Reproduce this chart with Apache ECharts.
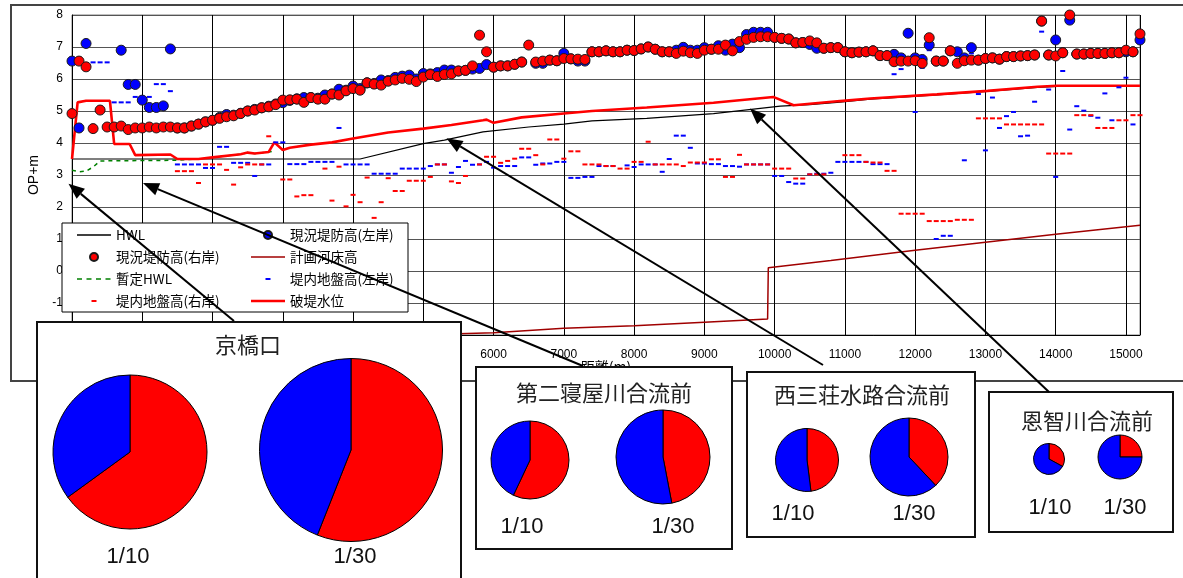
<!DOCTYPE html>
<html lang="ja">
<head>
<meta charset="utf-8">
<title>破堤水位・堤防高 縦断図</title>
<script src="https://cdn.jsdelivr.net/npm/echarts@6/dist/echarts.min.js"></script>
<style>
  html, body { margin: 0; padding: 0; background: #fff; }
  #chart { width: 1183px; height: 578px; }
</style>
</head>
<body>
<div id="chart"></div>
<script>
// ---- Longitudinal profile: stations every 100 m, 0 – 15200 m ----
const distances = Array.from({ length: 153 }, (_, i) => i * 100);

// 現況堤防高(右岸)
const dikeRight = [
  4.92, 6.56, 6.38, 4.45, 5.03, 4.50, 4.50, 4.53, 4.42, 4.47,
  4.47, 4.50, 4.47, 4.50, 4.50, 4.47, 4.47, 4.53, 4.59, 4.66,
  4.71, 4.77, 4.82, 4.85, 4.92, 5.00, 5.03, 5.10, 5.13, 5.20,
  5.34, 5.35, 5.37, 5.27, 5.42, 5.37, 5.37, 5.53, 5.50, 5.63,
  5.70, 5.65, 5.88, 5.84, 5.81, 5.93, 5.97, 6.02, 5.99, 5.92,
  6.06, 6.14, 6.08, 6.14, 6.16, 6.25, 6.27, 6.41, 7.37, 6.85,
  6.37, 6.41, 6.41, 6.46, 6.53, 7.06, 6.53, 6.56, 6.59, 6.57,
  6.64, 6.63, 6.62, 6.61, 6.85, 6.85, 6.88, 6.85, 6.85, 6.90,
  6.89, 6.94, 7.00, 6.93, 6.85, 6.85, 6.80, 6.87, 6.82, 6.80,
  6.90, 6.93, 6.93, 7.06, 6.88, 7.17, 7.24, 7.30, 7.32, 7.32,
  7.30, 7.27, 7.25, 7.13, 7.14, 7.19, 7.13, 6.96, 6.98, 6.98,
  6.85, 6.82, 6.84, 6.85, 6.88, 6.73, 6.73, 6.54, 6.56, 6.56,
  6.57, 6.49, 7.29, 6.56, 6.56, 6.88, 6.49, 6.57, 6.59, 6.59,
  6.64, 6.66, 6.62, 6.70, 6.70, 6.72, 6.73, 6.75, 7.81, 6.75,
  6.72, 6.82, 8.00, 6.78, 6.78, 6.80, 6.80, 6.80, 6.82, 6.82,
  6.90, 6.85, 7.41
];

// 現況堤防高(左岸)
const dikeLeft = [
  6.56, 4.47, 7.11, null, null, null, null, 6.90, 5.83, 5.83,
  5.34, 5.11, 5.11, 5.16, 6.94, 4.47, 4.47, 4.53, 4.59, 4.66,
  4.71, 4.80, 4.89, 4.87, 4.93, 5.00, 5.05, 5.10, 5.15, 5.22,
  5.26, 5.33, 5.38, 5.42, 5.42, 5.40, 5.50, 5.53, 5.68, 5.65,
  5.78, 5.70, 5.88, 5.86, 5.97, 5.95, 6.05, 6.09, 6.12, 6.00,
  6.17, 6.16, 6.20, 6.28, 6.28, 6.25, 6.27, 6.31, 6.33, 6.45,
  6.37, 6.41, 6.41, 6.46, 6.53, null, 6.49, 6.49, 6.59, 6.57,
  6.80, 6.63, 6.56, 6.56, 6.85, 6.85, 6.88, 6.85, 6.85, 6.90,
  6.89, 6.94, 7.00, 6.93, 6.85, 6.85, 6.90, 6.99, 6.90, 6.90,
  6.98, 6.93, 7.04, 6.90, 7.09, 6.98, 7.39, 7.46, 7.46, 7.46,
  7.30, 7.27, 7.25, 7.13, 7.14, 7.08, 6.96, 6.96, 6.98, 6.98,
  6.85, 6.82, 6.84, 6.85, 6.88, 6.73, 6.73, 6.77, 6.66, 7.43,
  6.66, 6.61, 7.06, 6.56, 6.56, 6.88, 6.85, 6.66, 6.98, 6.59,
  6.64, 6.66, 6.62, 6.70, 6.70, 6.72, 6.73, 6.75, 7.81, 6.75,
  7.22, 6.82, 7.84, 6.78, 6.78, 6.80, 6.80, 6.80, 6.82, 6.82,
  6.85, 6.85, 7.22
];

// 堤内地盤高(左岸)
const groundLeft = [
  null, null, null, 6.52, 6.52, 6.52, 5.27, 5.27, 5.27, 5.44,
  5.44, 5.44, 5.84, 5.84, 5.62, 3.33, 3.33, 3.33, 3.33, 3.22,
  3.22, 3.88, 3.88, 3.38, 3.38, 3.38, 2.97, 3.33, 3.33, 4.02,
  4.02, 3.34, 3.34, 3.34, 3.41, 3.41, 3.41, 3.41, 4.47, 3.33,
  3.33, 3.33, 3.33, 3.04, 3.04, 3.04, 3.04, 3.20, 3.20, 3.20,
  3.20, 3.28, 3.33, 3.33, 3.07, 3.25, 3.44, 3.32, 3.33, 3.41,
  3.23, 3.28, 3.28, 3.28, 3.55, 3.55, 3.32, 3.36, 3.36, 3.41,
  3.41, 2.91, 2.91, 2.94, 2.94, 3.28, 3.28, 3.28, null, 3.30,
  3.25, 3.33, 3.33, 3.33, 3.10, 3.50, 4.23, 4.23, 3.85, 3.36,
  3.36, 3.34, 3.34, 3.28, 3.28, 3.26, 3.33, 3.33, 3.33, 3.33,
  2.97, 2.97, 2.78, 2.73, 2.73, 3.02, 3.04, 3.04, 3.07, 3.41,
  3.41, 3.41, 3.41, 3.41, 3.34, 3.34, 3.34, 6.15, 6.31, null,
  4.97, 6.35, 6.90, 1.00, 1.10, 1.10, 6.54, 3.46, 6.80, 5.53,
  3.77, 5.42, 4.47, 4.84, 4.97, 4.21, 4.23, 5.29, 7.48, 5.67,
  2.94, 6.25, 4.42, 5.15, 5.01, 4.85, 4.79, 5.55, 4.71, 5.74,
  6.04, 4.58, null
];

// 堤内地盤高(右岸)
const groundRight = [
  null, null, null, null, null, null, null, null, null, null,
  null, null, null, null, null, 3.12, 3.12, 3.12, 2.75, 3.33,
  3.33, 3.33, 3.16, 2.70, 3.24, 3.33, 3.33, 3.33, 4.21, null,
  2.86, 2.86, 2.33, 2.37, 2.37, null, 3.20, 2.20, 3.26, 2.02,
  2.38, 2.15, 2.92, 1.66, 2.15, 2.90, 2.50, 2.50, 2.82, 2.82,
  2.82, 2.94, 3.33, 3.33, 2.80, 2.75, 2.97, null, 3.33, 3.57,
  3.57, 3.38, 3.44, 3.51, 3.82, 3.82, 3.62, 3.33, 4.11, 4.11,
  3.51, 3.74, 3.74, 3.33, 3.33, 3.33, 3.28, 3.28, 3.20, 3.20,
  3.41, 3.41, 4.04, 3.33, 3.33, 3.33, 3.33, 3.28, 3.39, 3.39,
  3.39, 3.49, 3.49, 2.94, 2.94, 3.63, 3.33, 3.33, 3.33, 3.33,
  3.20, 3.20, 3.20, 2.89, 2.89, 3.02, 3.02, 3.02, null, null,
  3.62, 3.62, 3.62, 3.41, 3.39, 3.39, 3.13, 3.13, 1.79, 1.79,
  1.79, 1.79, 1.56, 1.56, 1.56, 1.56, 1.60, 1.60, 1.60, 4.77,
  4.77, 4.77, 4.77, 4.58, 4.58, 4.58, 4.58, 4.58, 4.58, 3.67,
  3.67, 3.67, 3.67, 4.87, 4.87, 4.87, 4.47, 4.47, 4.47, 4.71,
  4.71, 4.87, 4.87
];

// HWL (breakpoints)
const hwlDist  = [0, 4100, 5000, 5300, 5850, 6500, 7000, 7400, 8180, 9130, 10080, 10500, 10930, 11360, 12310, 13030, 13740, 14020, 15200];
const hwlLevel = [3.50, 3.50, 3.98, 4.09, 4.35, 4.50, 4.59, 4.69, 4.77, 4.92, 5.15, 5.20, 5.28, 5.37, 5.50, 5.61, 5.74, 5.77, 5.77];

// 暫定HWL
const provDist  = [0, 100, 200, 300, 400, 1500, 1800, 2000, 2400, 2500, 2600, 2800, 2860];
const provLevel = [3.15, 3.10, 3.12, 3.25, 3.44, 3.46, 3.50, 3.55, 3.65, 3.70, 3.67, 3.72, 3.74];

// 破堤水位
const breachDist  = [0, 80, 200, 540, 600, 820, 900, 1400, 1500, 1800, 2000, 2400, 2500, 2600, 2800, 2880, 3000, 3100, 3400, 3700, 4000, 4500, 5000, 5400, 5850, 5900, 6000, 6400, 7000, 7400, 8180, 9130, 9980, 10270, 10930, 11360, 12310, 13030, 13740, 14020, 15200];
const breachLevel = [3.50, 5.27, 5.32, 5.32, 3.97, 3.97, 3.62, 3.64, 3.50, 3.50, 3.55, 3.65, 3.70, 3.67, 3.72, 4.02, 3.78, 3.85, 3.95, 4.02, 4.14, 4.33, 4.45, 4.56, 4.71, 4.73, 4.63, 4.80, 4.92, 5.00, 5.11, 5.26, 5.44, 5.18, 5.31, 5.39, 5.52, 5.63, 5.76, 5.79, 5.79];

// 計画河床高
const bedDist  = [5000, 5500, 6000, 7000, 8000, 9000, 9900, 9910, 10800, 12000, 13000, 14000, 15200];
const bedLevel = [-2.00, -1.96, -1.93, -1.79, -1.71, -1.60, -1.50, 0.10, 0.33, 0.65, 0.90, 1.15, 1.43];

// Axis ticks
const yTicks = { min: -2, max: 8, step: 1 };
const xTicks = { min: 0, max: 15200, step: 1000 };

// Flood share at each confluence (red = 右岸, blue = 左岸), in %
const pieSites = ['京橋口', '第二寝屋川合流前', '西三荘水路合流前', '恩智川合流前'];
const pieCases = ['1/10', '1/30'];
const shareRight = [[65, 56], [57, 47], [48, 38], [33, 25]];
const shareLeft  = [[35, 44], [43, 53], [52, 62], [67, 75]];

// Arrow targets on the profile: [distance (m), level (OP+m)]
const arrowTargets = [[-50, 2.73], [1010, 2.75], [5330, 4.15], [9650, 5.08]];

// ---- Layout ----
const FONT = '"Liberation Sans", Arial, sans-serif';
const JP = '"Noto Sans CJK JP", "Noto Sans CJK SC", sans-serif';
const RED = '#ff0000', BLUE = '#0000ff';

const panelLayout = [
  { box: [37, 322, 424, 290], title: [248, 345], pies: [{ c: [130, 452], r: 77, label: [128, 557] }, { c: [351, 450], r: 91.5, label: [355, 557] }] },
  { box: [476, 367, 256, 182], title: [604, 393], pies: [{ c: [530, 460], r: 39, label: [522, 527] }, { c: [663, 457], r: 47, label: [673, 527] }] },
  { box: [747, 372, 228, 165], title: [862, 395], pies: [{ c: [807, 460], r: 31.5, label: [793, 514] }, { c: [909, 457], r: 39, label: [914, 514] }] },
  { box: [989, 392, 184, 140], title: [1087, 421], pies: [{ c: [1049, 459], r: 15.5, label: [1050, 508] }, { c: [1120, 457], r: 22, label: [1125, 508] }] }
];
const arrowTails = [[234, 321], [583, 366], [823, 365], [1049, 392]];

const pairs = (xs, ys) => xs.map((x, i) => [x, ys[i]]).filter(p => p[1] !== null && p[1] !== undefined);

// Legend icons; the leading move-to points pin every icon box to 34 x 8
const ICON_BOX = 'path://M0,0M34,8';
const ICON_DASH = ICON_BOX + 'M14.5,3h5v2h-5z';
const ICON_THIN = ICON_BOX + 'M0,3.2h34v1.6h-34z';
const ICON_BED = ICON_BOX + 'M0,3.2h34v1.6h-34z';
const ICON_THICK = ICON_BOX + 'M0,2.7h34v2.6h-34z';
const ICON_DASHED = ICON_BOX + 'M0,3.2h5v1.6h-5zM9.5,3.2h5v1.6h-5zM19,3.2h5v1.6h-5zM28.5,3.2h5v1.6h-5z';

const chart = echarts.init(document.getElementById('chart'), null, { width: 1183, height: 578 });

const dotStyle = color => ({ color: color, opacity: 1, borderColor: '#1a1a1a', borderWidth: 1 });

const series = [
  { name: '計画河床高', type: 'line', data: pairs(bedDist, bedLevel), symbol: 'none',
    lineStyle: { color: '#a00000', width: 1.5 }, itemStyle: { color: '#a00000' }, z: 2 },
  { name: 'HWL', type: 'line', data: pairs(hwlDist, hwlLevel), symbol: 'none',
    lineStyle: { color: '#000', width: 1.2 }, itemStyle: { color: '#000' }, z: 2 },
  { name: '暫定HWL', type: 'line', data: pairs(provDist, provLevel), symbol: 'none',
    lineStyle: { color: '#008000', width: 1.5, type: [4, 4] }, itemStyle: { color: '#008000' }, z: 2 },
  { name: '破堤水位', type: 'line', data: pairs(breachDist, breachLevel), symbol: 'none',
    lineStyle: { color: RED, width: 2.6 }, itemStyle: { color: RED }, z: 3 },
  { name: '堤内地盤高(左岸)', type: 'scatter', data: pairs(distances, groundLeft),
    symbol: 'rect', symbolSize: [5, 2], itemStyle: { color: BLUE, opacity: 1 }, z: 3 },
  { name: '堤内地盤高(右岸)', type: 'scatter', data: pairs(distances, groundRight),
    symbol: 'rect', symbolSize: [5, 2], itemStyle: { color: RED, opacity: 1 }, z: 3 },
  { name: '現況堤防高(左岸)', type: 'scatter', data: pairs(distances, dikeLeft),
    symbol: 'circle', symbolSize: 10, itemStyle: dotStyle(BLUE), z: 4 },
  { name: '現況堤防高(右岸)', type: 'scatter', data: pairs(distances, dikeRight),
    symbol: 'circle', symbolSize: 10, itemStyle: dotStyle(RED), z: 4 }
];

// Pie pairs for each confluence
panelLayout.forEach((p, s) => {
  p.pies.forEach((pie, k) => {
    series.push({
      type: 'pie', name: pieSites[s] + ' ' + pieCases[k],
      center: pie.c, radius: pie.r, startAngle: 90, clockwise: true,
      z: 12, silent: true, label: { show: false }, labelLine: { show: false },
      emphasis: { disabled: true },
      itemStyle: { borderColor: '#000', borderWidth: 1 },
      data: [
        { name: '右岸', value: shareRight[s][k], itemStyle: { color: RED } },
        { name: '左岸', value: shareLeft[s][k], itemStyle: { color: BLUE } }
      ]
    });
  });
});

const legendBase = {
  orient: 'vertical', top: 228, padding: 0, itemWidth: 34, itemHeight: 8, itemGap: 8, z: 6,
  selectedMode: false,
  textStyle: { fontSize: 13.5, lineHeight: 14, color: '#000', fontFamily: JP }
};

chart.setOption({
  animation: false,
  backgroundColor: '#fff',
  textStyle: { fontFamily: FONT },
  grid: { left: 72, top: 15, right: 43, bottom: 243, show: true, borderColor: '#808080', borderWidth: 1 },
  xAxis: {
    type: 'value', min: xTicks.min, max: xTicks.max, interval: xTicks.step,
    name: '距離(m)', nameLocation: 'middle', nameGap: 25, nameMoveOverlap: false,
    nameTextStyle: { fontSize: 14, color: '#000', fontFamily: JP },
    axisLine: { show: true, onZero: false, lineStyle: { color: '#000', width: 1 } },
    axisTick: { show: false },
    axisLabel: { fontSize: 12, color: '#000', margin: 14, fontFamily: FONT,
      formatter: v => (v % xTicks.step === 0 ? String(v) : '') },
    splitLine: { show: true, lineStyle: { color: '#000', width: 1 } }
  },
  yAxis: {
    type: 'value', min: yTicks.min, max: yTicks.max, interval: yTicks.step,
    name: 'OP+m', nameLocation: 'middle', nameGap: 31, nameMoveOverlap: false,
    nameTextStyle: { fontSize: 14, color: '#000', fontFamily: FONT },
    axisLine: { show: true, lineStyle: { color: '#000', width: 1 } },
    axisTick: { show: false },
    axisLabel: { fontSize: 12, color: '#000', margin: 9, fontFamily: FONT },
    splitLine: { show: true, lineStyle: { color: '#555', width: 1 } }
  },
  legend: [
    Object.assign({}, legendBase, { left: 77, data: [
      { name: 'HWL', icon: ICON_THIN },
      { name: '現況堤防高(右岸)', icon: 'circle' },
      { name: '暫定HWL', icon: ICON_DASHED },
      { name: '堤内地盤高(右岸)', icon: ICON_DASH }
    ] }),
    Object.assign({}, legendBase, { left: 251, data: [
      { name: '現況堤防高(左岸)', icon: 'circle' },
      { name: '計画河床高', icon: ICON_BED },
      { name: '堤内地盤高(左岸)', icon: ICON_DASH },
      { name: '破堤水位', icon: ICON_THICK }
    ] })
  ],
  series: series
});

// ---- Frames, panel boxes, titles, case labels and arrows ----
const graphics = [];

// outer frame of the profile chart
graphics.push({ type: 'rect', z: 1, silent: true,
  shape: { x: 11, y: 5, width: 1185, height: 376 },
  style: { fill: null, stroke: '#444', lineWidth: 2 } });

// legend background
graphics.push({ type: 'rect', z: 5, silent: true,
  shape: { x: 62, y: 223, width: 346, height: 89 },
  style: { fill: '#fff', stroke: '#000', lineWidth: 1 } });

panelLayout.forEach((p, s) => {
  graphics.push({ type: 'rect', z: 10, silent: true,
    shape: { x: p.box[0], y: p.box[1], width: p.box[2], height: p.box[3] },
    style: { fill: '#fff', stroke: '#111', lineWidth: 2 } });
  graphics.push({ type: 'text', z: 13, silent: true, x: p.title[0], y: p.title[1],
    style: { text: pieSites[s], font: '22px ' + JP, fill: '#222', align: 'center', verticalAlign: 'middle' } });
  p.pies.forEach((pie, k) => {
    graphics.push({ type: 'text', z: 13, silent: true, x: pie.label[0], y: pie.label[1],
      style: { text: pieCases[k], font: '22px ' + FONT, fill: '#111', align: 'center', verticalAlign: 'middle' } });
  });
});

arrowTargets.forEach((t, i) => {
  const tip = chart.convertToPixel({ gridIndex: 0 }, t);
  const tail = arrowTails[i];
  const dx = tip[0] - tail[0], dy = tip[1] - tail[1];
  const len = Math.sqrt(dx * dx + dy * dy);
  const ux = dx / len, uy = dy / len;
  const headLen = 16, headHalf = 6.5;
  const bx = tip[0] - ux * headLen, by = tip[1] - uy * headLen;
  graphics.push({ type: 'line', z: 20, silent: true,
    shape: { x1: tail[0], y1: tail[1], x2: bx, y2: by },
    style: { stroke: '#000', lineWidth: 2 } });
  graphics.push({ type: 'polygon', z: 20, silent: true,
    shape: { points: [tip, [bx - uy * headHalf, by + ux * headHalf], [bx + uy * headHalf, by - ux * headHalf]] },
    style: { fill: '#000' } });
});

chart.setOption({ graphic: graphics });
</script>
</body>
</html>
